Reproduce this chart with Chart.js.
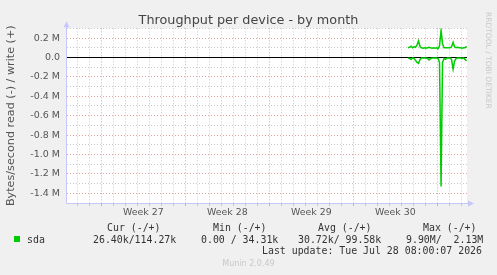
<!DOCTYPE html>
<html><head><meta charset="utf-8">
<script src="https://cdn.jsdelivr.net/npm/chart.js@4"></script>
<style>
html,body{margin:0;padding:0;background:#f0f0f0;}
#wrap{position:relative;width:497px;height:275px;overflow:hidden;background:#f0f0f0;}
canvas{position:absolute;left:0;top:0;}
.t{position:absolute;white-space:pre;font-family:"DejaVu Sans Mono",monospace;font-size:9.9px;color:#333;line-height:12px;}
.sq{position:absolute;left:14px;top:236px;width:6px;height:6px;background:#00cc00;}
.rrd{position:absolute;left:484px;top:12px;writing-mode:vertical-rl;font-family:"DejaVu Sans",sans-serif;font-size:7.5px;line-height:8px;color:#c8c8c8;white-space:pre;}
.mun{position:absolute;left:0;width:497px;top:258px;text-align:center;font-family:"DejaVu Sans",sans-serif;font-size:8px;line-height:12px;color:#c8c8c8;}
</style></head><body>
<div id="wrap">
<canvas id="c" width="497" height="275"></canvas>
<div class="rrd">RRDTOOL / TOBI OETIKER</div>
<div class="sq"></div>
<div class="t" style="left:107px;top:222px">Cur (-/+)</div>
<div class="t" style="left:213px;top:222px">Min (-/+)</div>
<div class="t" style="left:318px;top:222px">Avg (-/+)</div>
<div class="t" style="left:423px;top:222px">Max (-/+)</div>
<div class="t" style="left:27px;top:234px">sda</div>
<div class="t" style="left:93px;top:234px">26.40k/114.27k</div>
<div class="t" style="left:201px;top:234px">0.00 / 34.31k</div>
<div class="t" style="left:298px;top:234px">30.72k/ 99.58k</div>
<div class="t" style="left:406px;top:234px">9.90M/  2.13M</div>
<div class="t" style="left:262px;top:245px">Last update: Tue Jul 28 08:00:07 2026</div>
<div class="mun">Munin 2.0.49</div>
</div>
<script>
// ---- data (x in days from left edge of graph, y in bytes/second) ----
const days = [28.42,28.54,28.67,28.79,28.92,29.04,29.17,29.29,29.42,29.54,
              29.67,29.79,29.92,30.04,30.17,30.29,30.42,30.54,30.67,30.79,
              30.92,31.04,31.17,31.29,31.42,31.54,31.67,31.79,31.92,32.04,
              32.17,32.29,32.42,32.54,32.67,32.79,32.92,33.04,33.17,33.29];
const writeVals = [100000,105000,115000,100000,110000,105000,130000,170000,110000,100000,
                   95000,100000,95000,100000,105000,100000,95000,100000,95000,100000,
                   90000,120000,280000,140000,100000,100000,100000,100000,100000,110000,
                   155000,110000,100000,105000,100000,100000,95000,100000,100000,115000];
const readVals = [-5000,-10000,-20000,-5000,-10000,-30000,-50000,-60000,-20000,-5000,
                  -5000,-5000,-5000,-10000,-25000,-10000,-5000,-5000,-5000,-5000,
                  -10000,-50000,-1330000,-50000,-10000,-20000,-5000,-5000,-5000,-20000,
                  -120000,-40000,-10000,-5000,-5000,-5000,-10000,-5000,-20000,-35000];
const dayLines = [0.86,1.86,2.86,3.86,4.86,5.86,6.86,7.86,8.86,9.86,10.86,11.86,12.86,13.86,
                  14.86,15.86,16.86,17.86,18.86,19.86,20.86,21.86,22.86,23.86,24.86,25.86,
                  26.86,27.86,28.86,29.86,30.86,31.86,32.86];
const weekLines = [2.86,9.86,16.86,23.86,30.86];
const weekCenters = [6.36,13.36,20.36,27.36];
const weekLabels = ['Week 27','Week 28','Week 29','Week 30'];
const xMax = 33.33;

const MAJOR = 'rgba(226,150,150,0.9)';
const MINOR = 'rgba(190,190,190,0.85)';
const AXIS = 'rgb(198,198,250)';

const isMajorX = v => weekLines.some(w => Math.abs(w - v) < 1e-6);
const isCenter = v => weekCenters.some(w => Math.abs(w - v) < 1e-6);

const deco = {
  id: 'deco',
  beforeDraw(chart) {
    const {ctx, chartArea: a} = chart;
    ctx.save();
    ctx.fillStyle = '#ffffff';
    ctx.fillRect(a.left, a.top, a.right - a.left, a.bottom - a.top);
    ctx.restore();
  },
  beforeDatasetsDraw(chart) {
    const {ctx, chartArea: a, scales} = chart;
    const y0 = Math.round(scales.y.getPixelForValue(0)) + 0.5;
    ctx.save();
    ctx.strokeStyle = '#000';
    ctx.lineWidth = 1;
    ctx.beginPath(); ctx.moveTo(a.left, y0); ctx.lineTo(a.right, y0); ctx.stroke();
    ctx.restore();
  },
  afterDraw(chart) {
    const {ctx, chartArea: a} = chart;
    ctx.save();
    ctx.strokeStyle = AXIS; ctx.fillStyle = AXIS; ctx.lineWidth = 1;
    const lx = Math.round(a.left) - 0.5, by = Math.round(a.bottom) + 0.5;
    ctx.beginPath(); ctx.moveTo(lx, by); ctx.lineTo(lx, a.top - 3); ctx.stroke();
    ctx.beginPath(); ctx.moveTo(lx, by); ctx.lineTo(a.right + 3, by); ctx.stroke();
    ctx.beginPath(); ctx.moveTo(lx - 3, a.top - 1); ctx.lineTo(lx + 3, a.top - 1); ctx.lineTo(lx, a.top - 7); ctx.closePath(); ctx.fill();
    ctx.beginPath(); ctx.moveTo(a.right + 1, by - 3); ctx.lineTo(a.right + 1, by + 3); ctx.lineTo(a.right + 7, by); ctx.closePath(); ctx.fill();
    ctx.restore();
  }
};

new Chart(document.getElementById('c'), {
  type: 'line',
  data: {
    datasets: [
      { label: 'sda read', data: days.map((d, i) => ({x: d, y: readVals[i]})),
        borderColor: '#00cc00', borderWidth: 1.5, pointRadius: 0, tension: 0, fill: false },
      { label: 'sda write', data: days.map((d, i) => ({x: d, y: writeVals[i]})),
        borderColor: '#00cc00', borderWidth: 1.5, pointRadius: 0, tension: 0, fill: false }
    ]
  },
  options: {
    responsive: false, animation: false, devicePixelRatio: 1,
    layout: { padding: 0 },
    plugins: {
      legend: { display: false }, tooltip: { enabled: false },
      title: { display: true, text: 'Throughput per device - by month',
               color: '#444', font: { family: 'DejaVu Sans', size: 12.8, weight: 'normal' },
               padding: { top: 13, bottom: 0 } }
    },
    scales: {
      x: {
        type: 'linear', min: 0, max: xMax, position: 'bottom',
        afterBuildTicks: s => { s.ticks = dayLines.concat(weekCenters).sort((a, b) => a - b).map(v => ({value: v})); },
        afterFit: s => { s.height = 72; },
        border: { display: false, dash: [1, 2] },
        grid: {
          color: c => isCenter(c.tick.value) ? 'rgba(0,0,0,0)' : (isMajorX(c.tick.value) ? MAJOR : MINOR),
          tickColor: c => isCenter(c.tick.value) ? 'rgba(0,0,0,0)' : (isMajorX(c.tick.value) ? MAJOR : MINOR),
          lineWidth: 1, drawTicks: true, tickLength: 3
        },
        ticks: {
          autoSkip: false, maxRotation: 0, minRotation: 0, padding: 1, color: '#555',
          font: { family: 'DejaVu Sans', size: 9.4 },
          callback: v => { const i = weekCenters.findIndex(w => Math.abs(w - v) < 1e-6); return i >= 0 ? weekLabels[i] : ''; }
        }
      },
      y: {
        type: 'linear', min: -1500000, max: 300000, position: 'left',
        afterBuildTicks: s => { const t = []; for (let v = -15; v <= 3; v++) t.push({value: v * 100000}); s.ticks = t; },
        afterFit: s => { s.width = 67; },
        border: { display: false, dash: [1, 2] },
        grid: {
          color: c => { const k = Math.round(c.tick.value / 100000); if (k === 0) return 'rgba(0,0,0,0)'; return k % 2 === 0 ? MAJOR : MINOR; },
          lineWidth: 1, drawTicks: false
        },
        ticks: {
          autoSkip: false, padding: 7, color: '#555', font: { family: 'DejaVu Sans', size: 9.5 },
          callback: v => { const k = Math.round(v / 100000); if (k % 2 !== 0) return ''; if (k === 0) return '0.0'; return (k / 10).toFixed(1) + ' M'; }
        },
        title: { display: true, text: 'Bytes/second read (-) / write (+)', color: '#555',
                 font: { family: 'DejaVu Sans', size: 11.2 }, padding: { top: 4, bottom: 0 } }
      },
      y2: {
        type: 'linear', position: 'right', display: true,
        afterFit: s => { s.width = 30; },
        border: { display: false }, grid: { display: false }, ticks: { display: false }
      }
    }
  },
  plugins: [deco]
});
</script>
</body></html>
